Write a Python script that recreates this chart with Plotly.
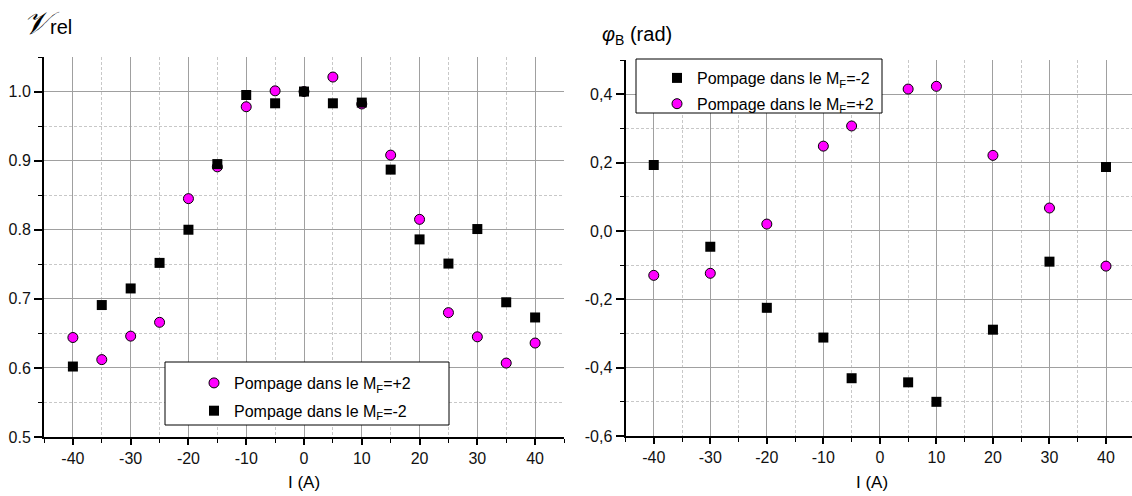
import plotly.graph_objects as go

# ---- Left panel data: relative visibility vs current ----
I_left = [-40, -35, -30, -25, -20, -15, -10, -5, 0, 5, 10, 15, 20, 25, 30, 35, 40]
V_plus2 = [0.644, 0.612, 0.646, 0.666, 0.845, 0.891, 0.978, 1.001, 1.000, 1.021,
           0.982, 0.908, 0.815, 0.680, 0.645, 0.607, 0.636]
V_minus2 = [0.602, 0.691, 0.715, 0.752, 0.800, 0.895, 0.995, 0.983, 1.000, 0.983,
            0.984, 0.887, 0.786, 0.751, 0.801, 0.695, 0.673]

# ---- Right panel data: phase vs current ----
I_right = [-40, -30, -20, -10, -5, 5, 10, 20, 30, 40]
phi_minus2 = [0.193, -0.046, -0.225, -0.312, -0.431, -0.443, -0.500, -0.289, -0.090, 0.187]
phi_plus2 = [-0.130, -0.124, 0.020, 0.248, 0.307, 0.415, 0.423, 0.221, 0.067, -0.103]

# ---- tick labels ----
x_tickvals = [-40, -30, -20, -10, 0, 10, 20, 30, 40]
x_ticktext = ["-40", "-30", "-20", "-10", "0", "10", "20", "30", "40"]
yl_tickvals = [0.5, 0.6, 0.7, 0.8, 0.9, 1.0]
yl_ticktext = ["0.5", "0.6", "0.7", "0.8", "0.9", "1.0"]
yr_tickvals = [-0.6, -0.4, -0.2, 0.0, 0.2, 0.4]
yr_ticktext = ["-0,6", "-0,4", "-0,2", "0,0", "0,2", "0,4"]

name_p2 = "Pompage dans le M<sub>F</sub>=+2"
name_m2 = "Pompage dans le M<sub>F</sub>=-2"

FONT = "Liberation Sans, Arial, sans-serif"
MAG = "#ff00ff"

circle_marker = dict(symbol="circle", size=10, color=MAG, line=dict(color="black", width=1))
square_marker = dict(symbol="square", size=10, color="black", line=dict(color="black", width=0))

fig = go.Figure()
fig.add_trace(go.Scatter(x=I_left, y=V_plus2, mode="markers", name=name_p2, marker=circle_marker,
                         xaxis="x", yaxis="y", legend="legend", legendgroup="a"))
fig.add_trace(go.Scatter(x=I_left, y=V_minus2, mode="markers", name=name_m2, marker=square_marker,
                         xaxis="x", yaxis="y", legend="legend", legendgroup="b"))
fig.add_trace(go.Scatter(x=I_right, y=phi_minus2, mode="markers", name=name_m2, marker=square_marker,
                         xaxis="x2", yaxis="y2", legend="legend2", legendgroup="c"))
fig.add_trace(go.Scatter(x=I_right, y=phi_plus2, mode="markers", name=name_p2, marker=circle_marker,
                         xaxis="x2", yaxis="y2", legend="legend2", legendgroup="d"))

W, H = 1132, 496

def px_x(p):
    return p / W

def px_y(p):
    return 1 - p / H

axis_common = dict(
    automargin=False,
    showline=True, linecolor="black", linewidth=2,
    ticks="outside", tickwidth=1.5, tickcolor="black",
    showgrid=True, gridcolor="#a0a0a0", gridwidth=1.2,
    zeroline=False,
    tickfont=dict(family=FONT, size=16, color="#111"),
)

minor_common = dict(ticks="outside", ticklen=4, tickwidth=1.2, tickcolor="black",
                    showgrid=True, gridcolor="#c8c8c8", griddash="3px,2px", gridwidth=1)

fig.update_layout(
    template="none",
    width=W, height=H,
    margin=dict(l=0, r=0, t=0, b=0, autoexpand=False),
    paper_bgcolor="white", plot_bgcolor="white",
    font=dict(family=FONT, color="black"),
    xaxis=dict(axis_common, domain=[px_x(44), px_x(564)], range=[-45, 45], anchor="y", ticklen=6,
               tickvals=x_tickvals, ticktext=x_ticktext, minor=dict(minor_common, dtick=5)),
    yaxis=dict(axis_common, domain=[px_y(437), px_y(57)], range=[0.5, 1.05], anchor="x", ticklen=8,
               tickvals=yl_tickvals, ticktext=yl_ticktext, minor=dict(minor_common, dtick=0.05, tick0=0.5)),
    xaxis2=dict(axis_common, domain=[px_x(625.5), 1.0], range=[-45, 44.6], anchor="y2", ticklen=6,
                tickvals=x_tickvals, ticktext=x_ticktext, minor=dict(minor_common, dtick=5)),
    yaxis2=dict(axis_common, domain=[px_y(436), px_y(60)], range=[-0.6, 0.5], anchor="x2", ticklen=8,
                tickvals=yr_tickvals, ticktext=yr_ticktext, minor=dict(minor_common, dtick=0.1, tick0=-0.6)),
    legend=dict(x=px_x(194), y=px_y(366), xanchor="left", yanchor="top",
                bgcolor="rgba(0,0,0,0)", borderwidth=0, traceorder="grouped", tracegroupgap=4,
                font=dict(family=FONT, size=16, color="black")),
    legend2=dict(x=px_x(657), y=px_y(61), xanchor="left", yanchor="top",
                 bgcolor="rgba(0,0,0,0)", borderwidth=0, traceorder="grouped", tracegroupgap=2,
                 font=dict(family=FONT, size=16, color="black")),
    shapes=[
        dict(type="rect", xref="paper", yref="paper", layer="above",
             x0=px_x(165), x1=px_x(449), y0=px_y(425), y1=px_y(362),
             line=dict(color="black", width=1), fillcolor="white"),
        dict(type="rect", xref="paper", yref="paper", layer="above",
             x0=px_x(636), x1=px_x(882), y0=px_y(113), y1=px_y(59),
             line=dict(color="black", width=1), fillcolor="white"),
    ],
    annotations=[
        dict(text="<span style='font-family:DejaVu Serif;font-size:32px'><i>𝒱</i></span>"
                  "<span style='font-size:20px'>rel</span>",
             x=px_x(21), y=px_y(44), xref="paper", yref="paper", xanchor="left", yanchor="bottom",
             showarrow=False, font=dict(family=FONT, size=20, color="black")),
        dict(text="<i>φ</i><sub>B</sub> (rad)",
             x=px_x(600), y=px_y(50), xref="paper", yref="paper", xanchor="left", yanchor="bottom",
             showarrow=False, font=dict(family=FONT, size=20, color="black")),
        dict(text="I (A)", x=px_x(304), y=px_y(494), xref="paper", yref="paper",
             xanchor="center", yanchor="bottom", showarrow=False,
             font=dict(family=FONT, size=17, color="black")),
        dict(text="I (A)", x=px_x(872), y=px_y(494), xref="paper", yref="paper",
             xanchor="center", yanchor="bottom", showarrow=False,
             font=dict(family=FONT, size=17, color="black")),
    ],
)

fig.write_html("out.html", config={"displayModeBar": False},
               post_script="document.body.style.margin='0px';document.body.style.overflow='hidden';")
